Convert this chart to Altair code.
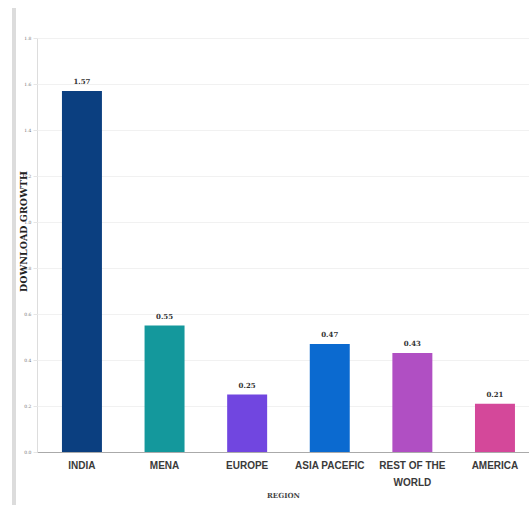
import altair as alt
import pandas as pd

regions = ["INDIA", "MENA", "EUROPE", "ASIA PACEFIC", "REST OF THE WORLD", "AMERICA"]
growth = [1.57, 0.55, 0.25, 0.47, 0.43, 0.21]
colors = ["#0b3f80", "#14989c", "#7146e0", "#0b6ad0", "#b04fc3", "#d4489a"]
y_ticks = [0, 0.2, 0.4, 0.6, 0.8, 1.0, 1.2, 1.4, 1.6, 1.8]

df = pd.DataFrame({"region": regions, "growth": growth,
                   "label": [f"{v:.2f}" for v in growth]})

x_enc = alt.X("region:N", sort=regions,
              scale=alt.Scale(paddingInner=0.516, paddingOuter=0.236, align=0.64),
              axis=alt.Axis(title="REGION", labelAngle=0,
                            labelFont="Liberation Sans Narrow, Liberation Sans",
                            labelFontSize=10, labelFontWeight="bold", labelColor="#3a3a3a",
                            labelPadding=8, labelLineHeight=17, labelLimit=200,
                            labelExpr="datum.label == 'REST OF THE WORLD' ? ['REST OF THE', 'WORLD'] : datum.label",
                            titleFont="DejaVu Serif", titleFontSize=7, titleFontWeight="bold",
                            titleColor="#444", titlePadding=4,
                            domainColor="#aaaaaa", domainWidth=1, ticks=False, grid=False))

y_enc = alt.Y("growth:Q",
              scale=alt.Scale(domain=[0, 1.8], nice=False),
              axis=alt.Axis(title="DOWNLOAD GROWTH", values=y_ticks,
                            labelFont="DejaVu Serif", labelFontSize=4.5, labelColor="#777",
                            labelPadding=2, tickSize=4, tickColor="#e6e6e6", domain=False,
                            gridColor="#f1f1f1", gridWidth=1,
                            titleFont="DejaVu Serif", titleFontSize=9.5, titleFontWeight="bold",
                            titleColor="#222", titleX=-14, titleY=193,
                            titleAlign="center", titleBaseline="middle"))

bars = alt.Chart(df).mark_bar().encode(
    x=x_enc, y=y_enc,
    color=alt.Color("region:N", sort=regions,
                    scale=alt.Scale(domain=regions, range=colors), legend=None),
)

text = alt.Chart(df).mark_text(dy=-9, font="DejaVu Serif", fontSize=7,
                               fontWeight="bold", color="#333").encode(
    x=alt.X("region:N", sort=regions), y="growth:Q", text="label:N")

frame = alt.Chart(df).mark_rule(color="#dcdcdc", strokeWidth=3).encode(
    x=alt.value(-23), y=alt.value(-30), y2=alt.value(470))

chart = alt.layer(frame, bars, text).properties(
    width=492, height=414,
    padding={"left": 37, "top": 38, "right": 0, "bottom": 53},
    autosize=alt.AutoSizeParams(type="none"),
).configure_view(stroke=None).configure(background="white")

chart.save("out.html", embed_options={"renderer": "svg", "actions": False})
